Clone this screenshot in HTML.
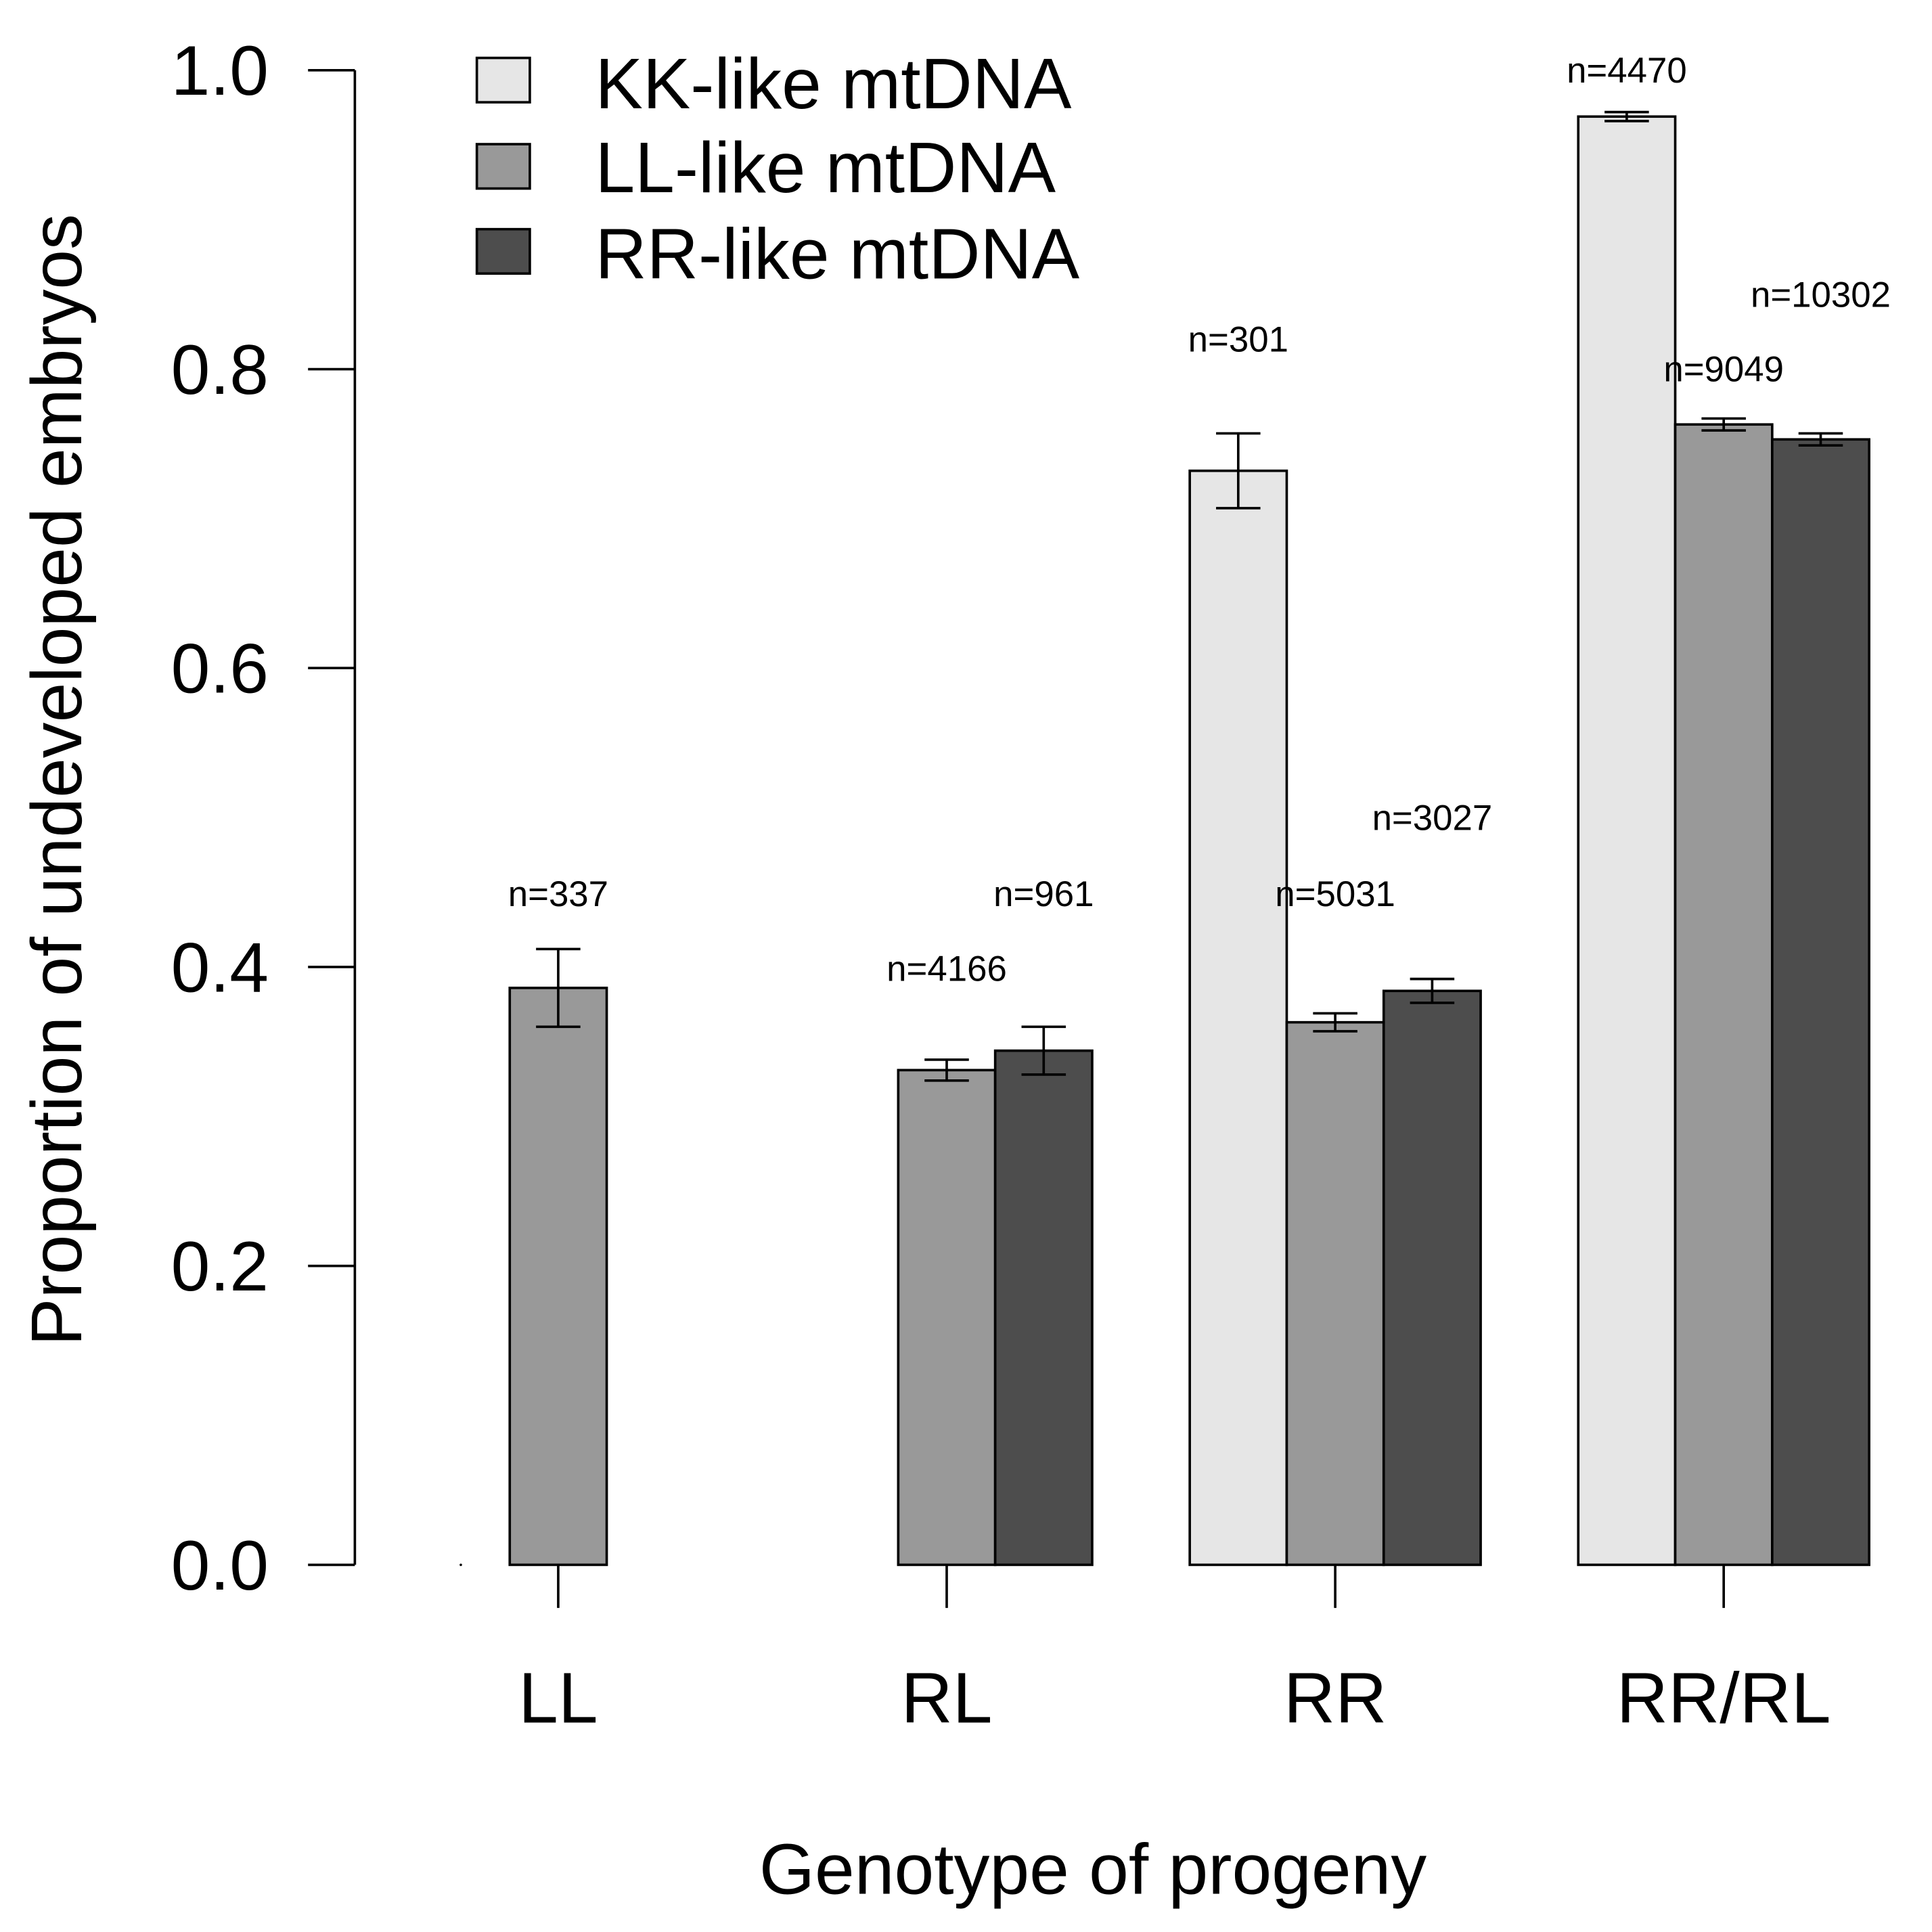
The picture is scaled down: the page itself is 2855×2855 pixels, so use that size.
<!DOCTYPE html>
<html><head><meta charset="utf-8"><style>
html,body{margin:0;padding:0;background:#fff;}
svg{display:block;font-family:"Liberation Sans",Arial,sans-serif;}
</style></head><body>
<svg id="chart" width="2855" height="2855" viewBox="0 0 1568 1568" xmlns="http://www.w3.org/2000/svg">
<g id="axes"></g><g id="bars"></g><g id="labels"></g>
<g>
<rect x="387" y="47" width="43" height="36" fill="#e6e6e6" stroke="#000" stroke-width="2"/>
<text x="483" y="88" font-size="58">KK-like mtDNA</text>
<rect x="387" y="117" width="43" height="36" fill="#999999" stroke="#000" stroke-width="2"/>
<text x="483" y="156" font-size="58">LL-like mtDNA</text>
<rect x="387" y="186" width="43" height="36" fill="#4d4d4d" stroke="#000" stroke-width="2"/>
<text x="483" y="226" font-size="58">RR-like mtDNA</text>
</g>
<circle cx="374" cy="1270" r="1" fill="#000"/>
<text transform="translate(66,633) rotate(-90)" text-anchor="middle" font-size="58">Proportion of undeveloped embryos</text>
<text x="887" y="1537" text-anchor="middle" font-size="58">Genotype of progeny</text>
</svg>
<script>
const categories = ["LL","RL","RR","RR/RL"];
const series = ["KK","LL","RR"];
const kkValues = [null, null, 0.732, 0.969];
const llValues = [0.386, 0.331, 0.363, 0.763];
const rrValues = [null, 0.344, 0.384, 0.753];
const kkErr = [null, null, 0.025, 0.003];
const llErr = [0.026, 0.007, 0.006, 0.004];
const rrErr = [null, 0.016, 0.008, 0.004];
const kkN = [null, null, "n=301", "n=4470"];
const llN = ["n=337", "n=4166", "n=5031", "n=9049"];
const rrN = [null, "n=961", "n=3027", "n=10302"];
const kkNy = [null, null, 0.82, 1.0];
const llNy = [0.449, 0.399, 0.449, 0.80];
const rrNy = [null, 0.449, 0.50, 0.85];
const yTicks = [0, 0.2, 0.4, 0.6, 0.8, 1.0];
const yTickLabels = ["0.0","0.2","0.4","0.6","0.8","1.0"];

const NS="http://www.w3.org/2000/svg";
const y0=1270, y1=57;
const yScale=v=>y0-(y0-y1)*v;
const groupStart=i=>335+315.3*i;
const barW=78.7;
const xBar=(g,s)=>groupStart(g)+barW*s;
const colors=["#e6e6e6","#999999","#4d4d4d"];
function mk(tag,attrs,parent){const e=document.createElementNS(NS,tag);for(const k in attrs)e.setAttribute(k,attrs[k]);parent.appendChild(e);return e;}
const axes=document.getElementById('axes'),bars=document.getElementById('bars'),labels=document.getElementById('labels');
let ax=mk('line',{x1:288,x2:288,y1:yScale(0),y2:yScale(1),stroke:'#000','stroke-width':2},axes);


yTicks.forEach((t,i)=>{
  let l=mk('line',{x1:250,x2:288,y1:yScale(t),y2:yScale(t),stroke:'#000','stroke-width':2},axes);
  
  
  let tx=mk('text',{x:218,y:yScale(t)+20,'text-anchor':'end','font-size':57},axes);
  tx.textContent=yTickLabels[i];
  
  
});
categories.forEach((c,g)=>{
  const cx=groupStart(g)+barW*1.5;
  let l=mk('line',{x1:cx,x2:cx,y1:1270,y2:1305,stroke:'#000','stroke-width':2},axes);
  
  
  let tx=mk('text',{x:cx,y:1398,'text-anchor':'middle','font-size':58},axes);
  tx.textContent=c;
  
  
});
const vals=[kkValues,llValues,rrValues],errs=[kkErr,llErr,rrErr],ns=[kkN,llN,rrN],nys=[kkNy,llNy,rrNy];
categories.forEach((c,g)=>{
  series.forEach((s,si)=>{
    const v=vals[si][g]; if(v==null) return;
    const x=xBar(g,si), cx=x+barW/2;
    let r=mk('rect',{x:x,y:yScale(v),width:barW,height:yScale(0)-yScale(v),fill:colors[si],stroke:'#000','stroke-width':2},bars);
    
    
    const e=errs[si][g];
    const eg=mk('g',{stroke:'#000','stroke-width':2},bars);
    
    
    mk('line',{x1:cx,x2:cx,y1:yScale(v-e),y2:yScale(v+e)},eg);
    mk('line',{x1:cx-18,x2:cx+18,y1:yScale(v-e),y2:yScale(v-e)},eg);
    mk('line',{x1:cx-18,x2:cx+18,y1:yScale(v+e),y2:yScale(v+e)},eg);
    let t=mk('text',{x:cx,y:yScale(nys[si][g])+10,'text-anchor':'middle','font-size':29},labels);
    t.textContent=ns[si][g];
    
    
  });
});
</script>
</body></html>
